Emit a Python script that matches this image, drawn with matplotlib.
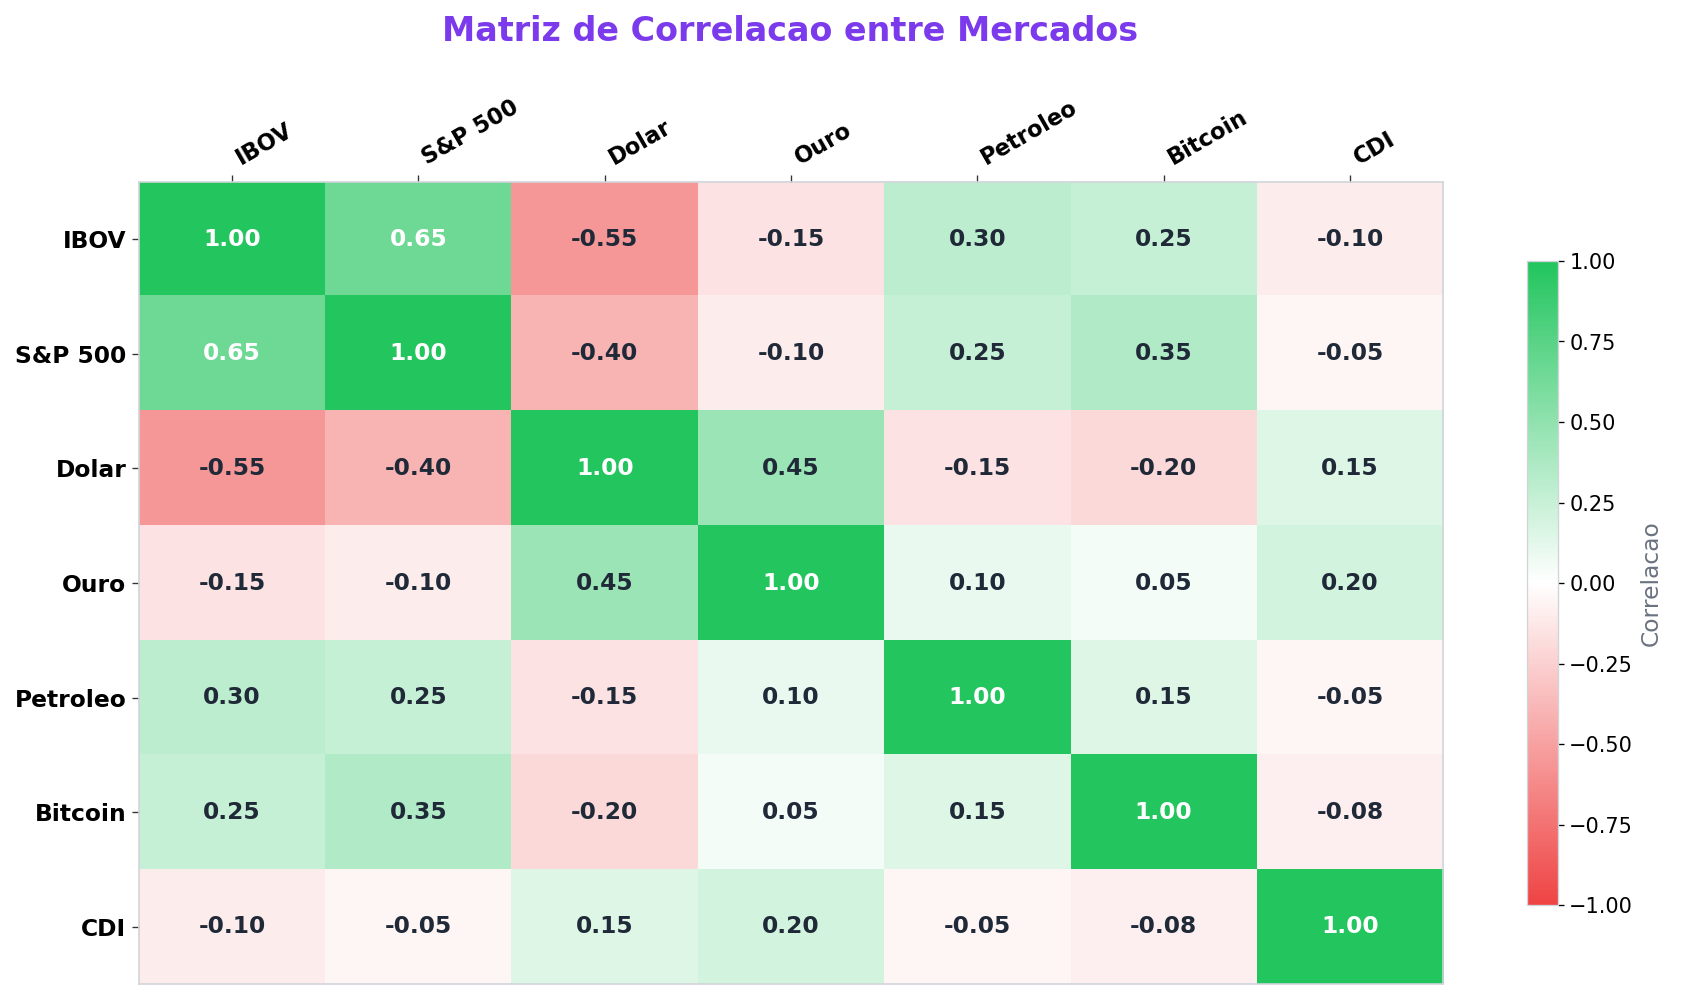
import matplotlib
matplotlib.use("Agg")
import matplotlib.pyplot as plt
import numpy as np
from matplotlib.colors import LinearSegmentedColormap

labels = ["IBOV", "S&P 500", "Dolar", "Ouro", "Petroleo", "Bitcoin", "CDI"]
row_ibov = [1.00, 0.65, -0.55, -0.15, 0.30, 0.25, -0.10]
row_sp500 = [0.65, 1.00, -0.40, -0.10, 0.25, 0.35, -0.05]
row_dolar = [-0.55, -0.40, 1.00, 0.45, -0.15, -0.20, 0.15]
row_ouro = [-0.15, -0.10, 0.45, 1.00, 0.10, 0.05, 0.20]
row_petroleo = [0.30, 0.25, -0.15, 0.10, 1.00, 0.15, -0.05]
row_bitcoin = [0.25, 0.35, -0.20, 0.05, 0.15, 1.00, -0.08]
row_cdi = [-0.10, -0.05, 0.15, 0.20, -0.05, -0.08, 1.00]

corr = np.array([row_ibov, row_sp500, row_dolar, row_ouro, row_petroleo, row_bitcoin, row_cdi])

cmap = LinearSegmentedColormap.from_list("rwg", ["#ef4444", "#ffffff", "#22c55e"])

fig = plt.figure(figsize=(1682 / 120, 1000 / 120), dpi=120)
ax = fig.add_axes([0.0826, 0.016, 0.7754, 0.802])
im = ax.imshow(corr, cmap=cmap, vmin=-1, vmax=1, aspect="auto")

n = len(labels)
ax.set_xticks(range(n))
ax.set_yticks(range(n))
ax.xaxis.tick_top()
ax.set_xticklabels(labels, rotation=30, ha="left",
                   fontsize=13.5, fontweight="bold")
ax.set_yticklabels(labels, fontsize=14, fontweight="bold")
ax.tick_params(axis="both", length=4, width=0.8, color="#333333")
for s in ax.spines.values():
    s.set_color("#d1d5db")
    s.set_linewidth(1.0)

for i in range(n):
    for j in range(n):
        v = corr[i, j]
        color = "white" if v > 0.5 else "#1f2937"
        ax.text(j, i, f"{v:.2f}", ha="center", va="center", fontsize=14,
                fontweight="bold", color=color)

cax = fig.add_axes([0.908, 0.095, 0.018, 0.644])
cb = fig.colorbar(im, cax=cax)
cb.outline.set_edgecolor("#d1d5db")
cb.ax.tick_params(labelsize=12.5)
cb.set_label("Correlacao", color="#6b7280", fontsize=14)

fig.suptitle("Matriz de Correlacao entre Mercados", fontsize=20, fontweight="bold",
             color="#7c3aed", x=0.47, y=0.985)

fig.savefig("out.png", dpi=120)
